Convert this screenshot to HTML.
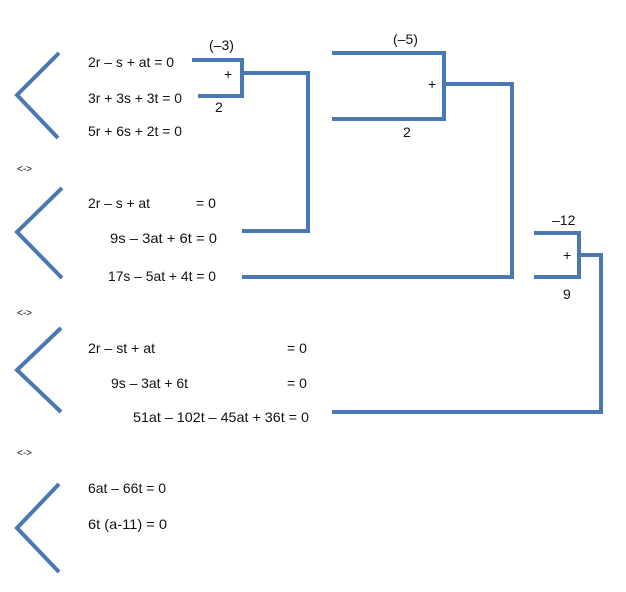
<!DOCTYPE html>
<html><head><meta charset="utf-8"><style>
html,body{margin:0;padding:0;background:#fff;}
svg{display:block;}
text{font-family:"Liberation Sans",sans-serif;font-size:14px;fill:#111;}
.s{font-size:10px;}
</style></head><body>
<svg width="626" height="592" viewBox="0 0 626 592" xmlns="http://www.w3.org/2000/svg">
<g fill="none" stroke="#4a78b0" stroke-width="4" stroke-linejoin="miter">
<polyline points="59,53 17,95 58,138"/>
<polyline points="62,188 17,232 62,278"/>
<polyline points="61,328 17,370 61,412"/>
<polyline points="59,484 17,528 59,572"/>
<polyline points="192,60 242,60 242,96 198,96"/>
<polyline points="242,73 308,73 308,231 242,231"/>
<polyline points="332,53 444,53 444,119 332,119"/>
<polyline points="444,84 512,84 512,277 242,277"/>
<polyline points="534,233 579,233 579,277 534,277"/>
<polyline points="579,255 601,255 601,412 332,412"/>
</g>
<g lengthAdjust="spacingAndGlyphs">
<text x="88" y="67" textLength="86" lengthAdjust="spacingAndGlyphs">2r – s + at = 0</text>
<text x="88" y="103" textLength="94" lengthAdjust="spacingAndGlyphs">3r + 3s + 3t = 0</text>
<text x="88" y="136" textLength="94" lengthAdjust="spacingAndGlyphs">5r + 6s + 2t = 0</text>
<text class="s" x="17" y="172">&lt;-&gt;</text>
<text x="88" y="208" textLength="62" lengthAdjust="spacingAndGlyphs">2r – s + at</text>
<text x="196" y="208">= 0</text>
<text x="110" y="243" textLength="107" lengthAdjust="spacingAndGlyphs">9s – 3at + 6t  = 0</text>
<text x="108" y="281" textLength="108" lengthAdjust="spacingAndGlyphs">17s – 5at + 4t = 0</text>
<text class="s" x="17" y="316">&lt;-&gt;</text>
<text x="88" y="353" textLength="67" lengthAdjust="spacingAndGlyphs">2r – st + at</text>
<text x="287" y="353">= 0</text>
<text x="111" y="388" textLength="77" lengthAdjust="spacingAndGlyphs">9s – 3at + 6t</text>
<text x="287" y="388">= 0</text>
<text x="133" y="422" textLength="176" lengthAdjust="spacingAndGlyphs">51at – 102t – 45at + 36t = 0</text>
<text class="s" x="17" y="456">&lt;-&gt;</text>
<text x="88" y="493" textLength="78" lengthAdjust="spacingAndGlyphs">6at – 66t = 0</text>
<text x="88" y="529" textLength="79" lengthAdjust="spacingAndGlyphs">6t (a-11) = 0</text>
</g>
<text x="209" y="50">(–3)</text>
<text x="224" y="79">+</text>
<text x="215" y="112">2</text>
<text x="393" y="44">(–5)</text>
<text x="428" y="89">+</text>
<text x="403" y="137">2</text>
<text x="552" y="225">–12</text>
<text x="563" y="260">+</text>
<text x="563" y="299">9</text>
</svg>
</body></html>
